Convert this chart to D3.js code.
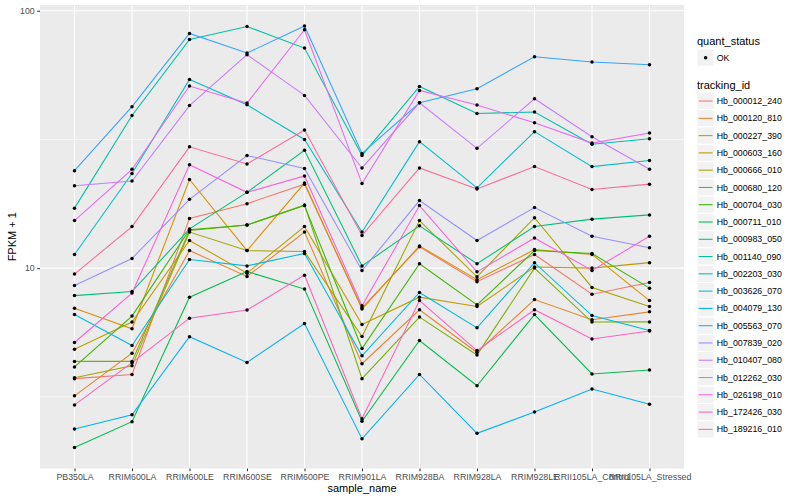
<!DOCTYPE html>
<html>
<head>
<meta charset="utf-8">
<script src="https://cdn.jsdelivr.net/npm/d3@7"></script>
<style>
  body { margin: 0; background: #fff; }
  svg { display: block; }
  text { font-family: "Liberation Sans", Arial, Helvetica, sans-serif; }
</style>
</head>
<body>
<svg id="chart" width="800" height="500"></svg>
<script>
// ---------------- DATA (FPKM + 1) ----------------
const samples = ["PB350LA","RRIM600LA","RRIM600LE","RRIM600SE","RRIM600PE","RRIM901LA","RRIM928BA","RRIM928LA","RRIM928LE","RRII105LA_Control","RRII105LA_Stressed"];
const trackingIds = ["Hb_000012_240","Hb_000120_810","Hb_000227_390","Hb_000603_160","Hb_000666_010","Hb_000680_120","Hb_000704_030","Hb_000711_010","Hb_000983_050","Hb_001140_090","Hb_002203_030","Hb_003626_070","Hb_004079_130","Hb_005563_070","Hb_007839_020","Hb_010407_080","Hb_012262_030","Hb_026198_010","Hb_172426_030","Hb_189216_010"];
const quantStatus = ["OK"];
const yTickValues = [10, 100];

const Hb_000012_240 = [3.72, 3.86, 15.6, 17.8, 21.2, 7.01, 12.1, 8.85, 11.3, 7.92, 8.79];
const Hb_000120_810 = [3.19, 4.67, 11.7, 9.28, 13.8, 4.25, 6.89, 4.70, 7.55, 6.30, 6.76];
const Hb_000227_390 = [6.99, 5.81, 22.1, 11.7, 21.4, 6.93, 12.2, 9.01, 11.8, 11.3, 7.48];
const Hb_000603_160 = [4.84, 6.17, 12.8, 9.56, 14.5, 6.04, 7.71, 7.09, 10.1, 10.0, 10.5];
const Hb_000666_010 = [3.75, 4.17, 13.8, 11.7, 11.6, 5.42, 15.3, 9.25, 15.7, 8.41, 7.09];
const Hb_000680_120 = [4.34, 4.34, 14.0, 14.7, 17.6, 3.72, 6.45, 4.60, 10.0, 6.17, 6.18];
const Hb_000704_030 = [4.13, 6.51, 14.1, 14.7, 17.5, 4.87, 10.4, 7.20, 11.7, 11.4, 8.36];
const Hb_000711_010 = [2.01, 2.53, 7.71, 9.70, 8.29, 2.54, 5.23, 3.49, 6.60, 3.88, 4.02];
const Hb_000983_050 = [7.82, 8.11, 14.2, 19.7, 28.7, 10.2, 14.6, 10.4, 14.5, 15.5, 16.1];
const Hb_001140_090 = [17.1, 39.2, 77.4, 86.9, 71.6, 27.4, 50.8, 39.9, 40.4, 30.3, 31.8];
const Hb_002203_030 = [11.3, 23.3, 54.1, 43.1, 31.6, 13.8, 31.0, 20.5, 33.9, 24.8, 26.2];
const Hb_003626_070 = [6.60, 5.00, 10.8, 10.2, 11.4, 4.56, 8.04, 5.86, 10.5, 6.54, 5.72];
const Hb_004079_130 = [2.37, 2.69, 5.41, 4.30, 6.09, 2.17, 3.86, 2.28, 2.76, 3.39, 2.96];
const Hb_005563_070 = [23.9, 42.4, 81.6, 68.5, 87.2, 27.9, 43.9, 49.8, 66.3, 63.2, 61.7];
const Hb_007839_020 = [8.56, 10.9, 18.5, 27.4, 24.4, 9.79, 18.3, 12.8, 17.2, 13.3, 12.0];
const Hb_010407_080 = [20.9, 21.8, 42.8, 67.5, 46.9, 24.5, 43.9, 29.2, 45.5, 32.4, 24.2];
const Hb_012262_030 = [15.3, 24.2, 51.0, 43.8, 84.4, 21.3, 49.0, 43.0, 36.7, 30.6, 33.5];
const Hb_026198_010 = [5.14, 8.00, 25.2, 19.7, 22.8, 7.14, 17.5, 9.67, 13.1, 9.79, 13.3];
const Hb_172426_030 = [2.94, 4.29, 6.39, 6.87, 9.39, 2.60, 7.48, 4.78, 6.89, 5.30, 5.70];
const Hb_189216_010 = [9.48, 14.5, 29.6, 25.4, 34.4, 13.4, 24.5, 20.3, 24.8, 20.2, 21.2];

const seriesValues = [Hb_000012_240, Hb_000120_810, Hb_000227_390, Hb_000603_160, Hb_000666_010,
  Hb_000680_120, Hb_000704_030, Hb_000711_010, Hb_000983_050, Hb_001140_090, Hb_002203_030,
  Hb_003626_070, Hb_004079_130, Hb_005563_070, Hb_007839_020, Hb_010407_080, Hb_012262_030,
  Hb_026198_010, Hb_172426_030, Hb_189216_010];
const series = trackingIds.map((id, i) => ({ id, values: seriesValues[i] }));

// ---------------- ggplot2 hue palette (polar LUV) ----------------
function hclHex(h, c, l) {
  const hr = h * Math.PI / 180;
  const U = c * Math.cos(hr), V = c * Math.sin(hr);
  const Xn = 95.047, Yn = 100, Zn = 108.883;
  const Y = l > 8 ? Yn * Math.pow((l + 16) / 116, 3) : Yn * l / 903.3;
  const den = Xn + 15 * Yn + 3 * Zn;
  const un = 4 * Xn / den, vn = 9 * Yn / den;
  const up = U / (13 * l) + un, vp = V / (13 * l) + vn;
  const X = 9 * Y * up / (4 * vp);
  const Z = -X / 3 - 5 * Y + 3 * Y / vp;
  const x = X / 100, y = Y / 100, z = Z / 100;
  let r = 3.240479 * x - 1.537150 * y - 0.498535 * z;
  let g = -0.969256 * x + 1.875992 * y + 0.041556 * z;
  let b = 0.055648 * x - 0.204043 * y + 1.057311 * z;
  const gam = v => { v = v <= 0.0031308 ? 12.92 * v : 1.055 * Math.pow(v, 1 / 2.4) - 0.055; return Math.round(Math.max(0, Math.min(1, v)) * 255); };
  return d3.rgb(gam(r), gam(g), gam(b)).formatHex();
}
const n = trackingIds.length;
const palette = trackingIds.map((d, i) => hclHex(15 + i * 360 / n, 100, 65));
const color = d3.scaleOrdinal().domain(trackingIds).range(palette);

// ---------------- LAYOUT ----------------
const svg = d3.select("#chart");
const P = { left: 40, right: 684, top: 5, bottom: 468.5 };

const all = seriesValues.flat();
const lmin = Math.log10(d3.min(all)), lmax = Math.log10(d3.max(all));
const pad = (lmax - lmin) * 0.05;
const y = d3.scaleLog().domain([Math.pow(10, lmin - pad), Math.pow(10, lmax + pad)]).range([P.bottom, P.top]);
const x = d3.scalePoint().domain(samples).range([P.left, P.right]).padding(0.6);

// panel
svg.append("rect").attr("x", P.left).attr("y", P.top)
  .attr("width", P.right - P.left).attr("height", P.bottom - P.top).attr("fill", "#EBEBEB");

const grid = svg.append("g");
// minor y grid (midpoints in log space)
const minor = [Math.pow(10, 0.5), Math.pow(10, 1.5)];
grid.selectAll("line.minor").data(minor).join("line")
  .attr("x1", P.left).attr("x2", P.right)
  .attr("y1", d => y(d)).attr("y2", d => y(d))
  .attr("stroke", "#fff").attr("stroke-width", 0.55);
grid.selectAll("line.majy").data(yTickValues).join("line")
  .attr("x1", P.left).attr("x2", P.right)
  .attr("y1", d => y(d)).attr("y2", d => y(d))
  .attr("stroke", "#fff").attr("stroke-width", 1.1);
grid.selectAll("line.majx").data(samples).join("line")
  .attr("x1", d => x(d)).attr("x2", d => x(d))
  .attr("y1", P.top).attr("y2", P.bottom)
  .attr("stroke", "#fff").attr("stroke-width", 1.1);

// lines
const line = d3.line().x((d, i) => x(samples[i])).y(d => y(d));
svg.append("g").selectAll("path").data(series).join("path")
  .attr("d", d => line(d.values))
  .attr("fill", "none")
  .attr("stroke", d => color(d.id))
  .attr("stroke-width", 1.07);

// points
const pts = series.flatMap(s => s.values.map((v, i) => ({ s: samples[i], v })));
svg.append("g").selectAll("circle").data(pts).join("circle")
  .attr("cx", d => x(d.s)).attr("cy", d => y(d.v)).attr("r", 1.75).attr("fill", "#000");

// axes
const yAxis = d3.axisLeft(y).tickValues(yTickValues).tickFormat(d3.format("d")).tickSize(2.75).tickPadding(2.5);
const gy = svg.append("g").attr("transform", `translate(${P.left},0)`).call(yAxis);
gy.select(".domain").remove();
gy.selectAll(".tick line").attr("stroke", "#333333").attr("stroke-width", 1.07);
gy.selectAll(".tick text").attr("fill", "#4D4D4D").style("font-size", "8.8px")
  .style("font-family", '"Liberation Sans", Arial, sans-serif');

const xAxis = d3.axisBottom(x).tickSize(2.75).tickPadding(2.5);
const gx = svg.append("g").attr("transform", `translate(0,${P.bottom})`).call(xAxis);
gx.select(".domain").remove();
gx.selectAll(".tick line").attr("stroke", "#333333").attr("stroke-width", 1.07);
gx.selectAll(".tick text").attr("fill", "#4D4D4D").style("font-size", "8.8px")
  .style("font-family", '"Liberation Sans", Arial, sans-serif');

// axis titles
svg.append("text").attr("x", (P.left + P.right) / 2).attr("y", 492)
  .attr("text-anchor", "middle").style("font-size", "11px").attr("fill", "#000").text("sample_name");
svg.append("text").attr("transform", `translate(16,${(P.top + P.bottom) / 2}) rotate(-90)`)
  .attr("text-anchor", "middle").style("font-size", "11px").attr("fill", "#000").text("FPKM + 1");

// legend
const LX = 697, K = 17.28;
const lg = svg.append("g");
lg.append("text").attr("x", LX).attr("y", 44.5).style("font-size", "11px").text("quant_status");
const qk = lg.selectAll("g.q").data(quantStatus).join("g")
  .attr("transform", (d, i) => `translate(${LX},${49 + i * K})`);
qk.append("rect").attr("width", K).attr("height", K).attr("fill", "#F2F2F2").attr("stroke", "#fff").attr("stroke-width", 1);
qk.append("circle").attr("cx", K / 2).attr("cy", K / 2).attr("r", 1.75).attr("fill", "#000");
qk.append("text").attr("x", K + 2.5).attr("y", K / 2).attr("dy", "0.35em").style("font-size", "8.8px").attr("fill", "#000").text(d => d);

lg.append("text").attr("x", LX).attr("y", 89).style("font-size", "11px").text("tracking_id");
const tk = lg.selectAll("g.t").data(trackingIds).join("g")
  .attr("transform", (d, i) => `translate(${LX},${92.4 + i * K})`);
tk.append("rect").attr("width", K).attr("height", K).attr("fill", "#F2F2F2").attr("stroke", "#fff").attr("stroke-width", 1);
tk.append("line").attr("x1", 1.7).attr("x2", K - 1.7).attr("y1", K / 2).attr("y2", K / 2)
  .attr("stroke", d => color(d)).attr("stroke-width", 1.07);
tk.append("text").attr("x", K + 2.5).attr("y", K / 2).attr("dy", "0.35em").style("font-size", "8.8px").attr("fill", "#000").text(d => d);
</script>
</body>
</html>
